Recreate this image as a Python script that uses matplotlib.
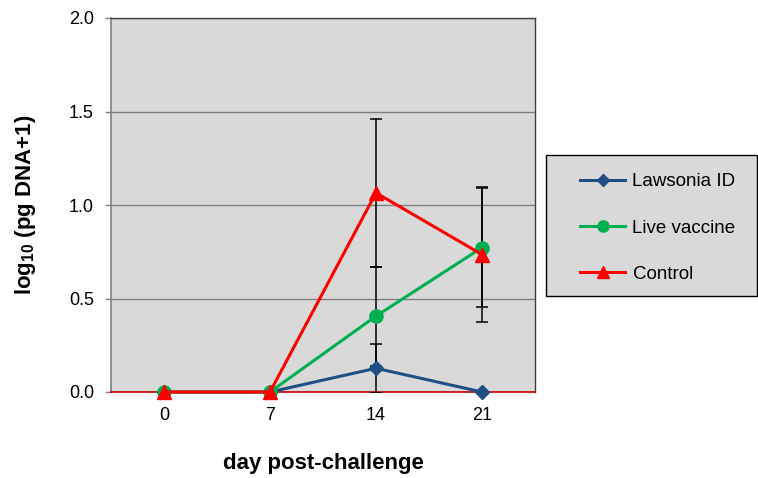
import matplotlib
matplotlib.use("Agg")
import matplotlib.pyplot as plt
from matplotlib.patches import Rectangle
import numpy as np

plt.rcParams['font.family'] = ['Liberation Sans', 'DejaVu Sans']
plt.rcParams['mathtext.fontset'] = 'custom'
plt.rcParams['mathtext.bf'] = 'Liberation Sans:bold'
plt.rcParams['mathtext.rm'] = 'Liberation Sans:bold'

days = ["0", "7", "14", "21"]
series_names = ["Lawsonia ID", "Live vaccine", "Control"]
lawsonia = [0.0, 0.0, 0.127, 0.0]
lawsonia_err = [0.0, 0.0, 0.13, 0.0]
live = [0.0, 0.0, 0.406, 0.772]
live_err = [0.0, 0.0, 0.265, 0.32]
control = [0.0, 0.0, 1.065, 0.735]
control_err = [0.0, 0.0, 0.395, 0.36]

colors = ["#1F4E85", "#00B050", "#FF0000"]
markers = ["D", "o", "^"]
msizes = [7.5, 9.5, 9.5]

fig = plt.figure(figsize=(7.58, 4.78), dpi=100)
ax = fig.add_axes([111/758, 1-392/478, 424/758, 374/478])
ax.set_facecolor("#D9D9D9")

x = np.arange(len(days))
data = [(lawsonia, lawsonia_err), (live, live_err), (control, control_err)]
for i, (vals, errs) in enumerate(data):
    ax.errorbar(x, vals, yerr=errs, fmt='none', ecolor='black', elinewidth=1.1,
                capsize=4, capthick=1.1, zorder=3)
for i, ((vals, errs), name) in enumerate(zip(data, series_names)):
    ax.plot(x, vals, color=colors[i], marker=markers[i], markersize=msizes[i],
            linewidth=2.2, label=name, zorder=4 + i, clip_on=False)

ax.set_xlim(-0.5, 3.5)
ax.set_ylim(0, 2.0)
ax.set_xticks(x)
ax.set_xticklabels(days, fontsize=13)
ax.set_yticks([0.0, 0.5, 1.0, 1.5, 2.0])
ax.set_yticklabels(["0.0", "0.5", "1.0", "1.5", "2.0"], fontsize=13)
ax.tick_params(axis='x', length=0, pad=11)
ax.tick_params(axis='y', length=4.3, width=1, color="#808080", pad=8)
ax.grid(axis='y', color="#808080", linewidth=1, zorder=1)
ax.set_axisbelow(True)
for s in ['top', 'right']:
    ax.spines[s].set_color("#404040")
    ax.spines[s].set_linewidth(1)
ax.spines['left'].set_color("#808080")
ax.spines['left'].set_linewidth(1.2)
ax.spines['bottom'].set_color("#C00000")
ax.spines['bottom'].set_linewidth(1.2)

ax.set_xlabel("day post-challenge", fontsize=16, fontweight='bold', labelpad=21)
ax.set_ylabel(r"log$_{\mathbf{10}}$ (pg DNA+1)", fontsize=16, fontweight='bold', labelpad=22.5)

# legend box
fig.patches.append(Rectangle((546/758, 1-296/478), 211/758, 141/478,
                             transform=fig.transFigure, facecolor="#D9D9D9",
                             edgecolor="black", linewidth=1.0, zorder=0))
leg = fig.legend(loc='center left', bbox_to_anchor=(580/758, 1-228/478),
                 fontsize=13.5, frameon=False,
                 handlelength=2.4, handletextpad=0.4, labelspacing=1.56,
                 borderpad=0, borderaxespad=0, markerscale=0.85)

fig.savefig("out.png", dpi=100)
